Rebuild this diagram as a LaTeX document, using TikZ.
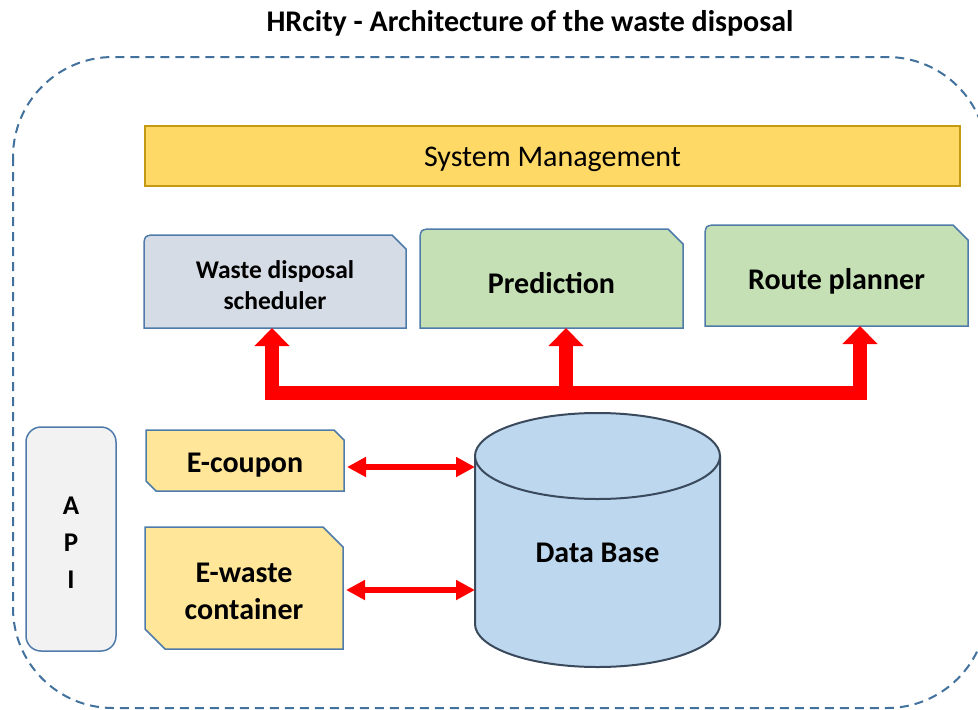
\documentclass[tikz,border=0pt]{standalone}
\usepackage{fontspec}
\setmainfont{Carlito}
\usetikzlibrary{arrows.meta,calc}
\definecolor{dashblue}{HTML}{41719C}
\definecolor{boxblue}{HTML}{4F7BAA}
\definecolor{sysfill}{HTML}{FFD966}
\definecolor{sysdraw}{HTML}{C49A12}
\definecolor{grayblue}{HTML}{D6DCE5}
\definecolor{lgreen}{HTML}{C5E0B4}
\definecolor{lyellow}{HTML}{FFE699}
\definecolor{lgray}{HTML}{F2F2F2}
\definecolor{dbfill}{HTML}{BDD7EE}
\definecolor{dbdraw}{HTML}{3A4A5C}
\definecolor{bred}{HTML}{FF0000}
\tikzset{
  holder/.style={inner sep=0pt, outer sep=0pt},
  shapeline/.style={draw=boxblue, line width=1.5pt},
  lbl/.style={font=\bfseries\fontsize{30}{37}\selectfont, align=center, inner sep=0pt},
  slbl/.style={font=\bfseries\fontsize{25.5}{31}\selectfont, align=center, inner sep=0pt},
  bigred/.style={draw=bred, line width=14pt, line join=miter},
  dblred/.style={draw=bred, line width=6pt, {Triangle[width=19pt,length=19pt]}-{Triangle[width=19pt,length=19pt]}}
}
\newcommand{\tabshape}[4]{% node, style, radius, snip
  \filldraw[#2] (#1.south west) -- ([yshift=-#3]#1.north west) .. controls (#1.north west) .. ([xshift=#3]#1.north west) -- ([xshift=-#4]#1.north east) -- ([yshift=-#4]#1.north east) -- (#1.south east) -- cycle;}
\newcommand{\snipshape}[3]{% node, style, snip
  \filldraw[#2] (#1.north west) -- ([xshift=-#3]#1.north east) -- ([yshift=-#3]#1.north east) -- (#1.south east) -- ([xshift=#3]#1.south west) -- ([yshift=#3]#1.south west) -- cycle;}
\begin{document}
\begin{tikzpicture}[x=1pt,y=-1pt]
\useasboundingbox (0,0) rectangle (978,710);
% outer dashed frame
\draw[dashblue, line width=2pt, dash pattern=on 9pt off 6pt, rounded corners=100pt] (13,57) rectangle (987,708);
% title
\node[font=\bfseries\fontsize{30}{36}\selectfont, inner sep=0pt] (title) at (530,23) {HRcity - Architecture of the waste disposal};
% system management
\node[draw=sysdraw, fill=sysfill, line width=2pt, minimum width=815pt, minimum height=60pt] (sys) at (552.5,156) {};
\node[font=\fontsize{30}{36}\selectfont, inner sep=0pt] (syst) at (552.5,159) {System Management};
% upper boxes
\node[holder, minimum width=262pt, minimum height=93pt] (sched) at (275,281.5) {};
\tabshape{sched}{shapeline, fill=grayblue}{15pt}{14pt}
\node[slbl] (schedt) at (275,285) {Waste disposal\\scheduler};
\node[holder, minimum width=263pt, minimum height=99pt] (pred) at (551.5,278.5) {};
\tabshape{pred}{shapeline, fill=lgreen}{15pt}{15pt}
\node[lbl] (predt) at (551.5,283) {Prediction};
\node[holder, minimum width=263pt, minimum height=101pt] (route) at (836.5,275.5) {};
\tabshape{route}{shapeline, fill=lgreen}{15pt}{15pt}
\node[lbl] (routet) at (836.5,281) {Route planner};
% big red arrows
\coordinate (bar) at (0,393);
\coordinate (sA) at ([xshift=-3pt]sched.south);
\coordinate (pA) at ([xshift=14.5pt]pred.south);
\coordinate (rA) at ([xshift=23.5pt]route.south);
\draw[bigred, {Triangle[width=34pt,length=18pt]}-{Triangle[width=34pt,length=18pt]}] (sA) -- (sA |- bar) -- (rA |- bar) -- (rA);
\draw[bigred, -{Triangle[width=34pt,length=18pt]}] (pA |- bar) -- (pA);
% API
\node[draw=boxblue, line width=1.5pt, fill=lgray, rounded corners=15pt, minimum width=90pt, minimum height=224pt] (api) at (71,539) {};
\node[font=\bfseries\fontsize{27}{37}\selectfont, align=center, inner sep=0pt] (apit) at (71,543) {A\\P\\I};
% E boxes
\node[holder, minimum width=198pt, minimum height=61pt] (ecoupon) at (245,460.5) {};
\snipshape{ecoupon}{shapeline, fill=lyellow}{10pt}
\node[lbl] (ecoupont) at (245,465) {E-coupon};
\node[holder, minimum width=198pt, minimum height=122pt] (ewaste) at (244,588) {};
\snipshape{ewaste}{shapeline, fill=lyellow}{20pt}
\node[lbl] (ewastet) at (244,591) {E-waste\\container};
% database cylinder
\node[holder, minimum width=245pt, minimum height=254pt] (db) at (597.5,540) {};
\fill[dbfill] (597.5,624) ellipse [x radius=122.5pt, y radius=43pt];
\fill[dbfill] (475,456) rectangle (720,624);
\draw[dbdraw, line width=2pt] (475,456) -- (475,624) .. controls (475,647.75) and (529.84,667) .. (597.5,667) .. controls (665.16,667) and (720,647.75) .. (720,624) -- (720,456);
\filldraw[fill=dbfill, draw=dbdraw, line width=2pt] (597.5,456) ellipse [x radius=122.5pt, y radius=43pt];
\node[lbl] (dbt) at (597.5,553) {Data Base};
% double arrows
\draw[dblred] ([xshift=3pt,yshift=-6.5pt]ecoupon.east) -- ([yshift=-6.5pt]ecoupon.east -| db.west);
\draw[dblred] ([xshift=3pt,yshift=-2pt]ewaste.east) -- ([yshift=-2pt]ewaste.east -| db.west);
\end{tikzpicture}
\end{document}
